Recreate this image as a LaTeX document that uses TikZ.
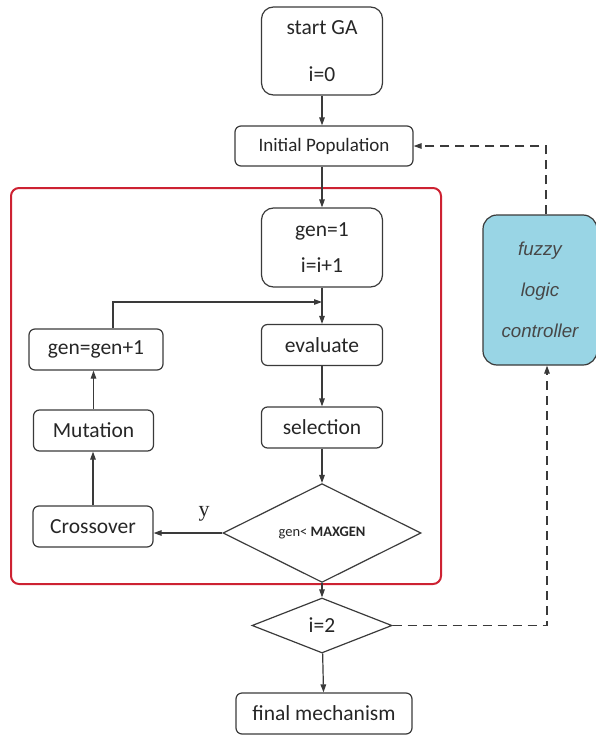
\documentclass[tikz,border=0pt]{standalone}
\usepackage{fontspec}
\setmainfont{Carlito}
\newfontfamily\ctrlfont{Liberation Sans}
\newfontfamily\labelfont{Liberation Serif}
\usetikzlibrary{arrows.meta,shapes.geometric}
\definecolor{FlowInk}{HTML}{3A3A3A}
\definecolor{FlowText}{HTML}{262626}
\definecolor{FlowRed}{HTML}{CD2232}
\definecolor{FlowBlue}{HTML}{99D5E5}
\tikzset{
  every node/.style={font=\fontsize{21.5}{26}\selectfont, text=FlowText},
  stepbox/.style={draw=FlowInk, line width=1.2pt, rounded corners=6pt, minimum width=121pt, minimum height=41pt, inner sep=0pt},
  bigbox/.style={stepbox, rounded corners=12pt, align=center},
  test/.style={diamond, draw=FlowInk, line width=1.2pt, inner sep=0pt},
  loopframe/.style={draw=FlowRed, line width=2pt, rounded corners=8pt},
  flow/.style={-{Triangle[length=8pt,width=5.5pt]}, draw=FlowInk, line width=1.2pt},
  control/.style={flow, dash pattern=on 9pt off 6pt},
  ctrlbox/.style={draw=FlowInk, line width=1.2pt, fill=FlowBlue, rounded corners=14pt, align=center, inner sep=0pt, font=\ctrlfont\itshape\fontsize{18.7}{22}\selectfont, text=FlowText!85},
}
\begin{document}
\begin{tikzpicture}[x=1pt,y=-1pt]
  \useasboundingbox (0,0) rectangle (596,736);
  % GA loop frame
  \draw[loopframe] (11,188) rectangle (441,584);
  % Main column
  \node[bigbox, minimum height=88pt] (start) at (322,51) {start GA\\[21pt]i=0};
  \node[stepbox, minimum width=178pt, minimum height=40pt, font=\fontsize{19}{23}\selectfont] (init) at (324,146) {Initial Population};
  \node[bigbox, minimum height=79pt] (gen1) at (322,247.5) {gen=1\\[10pt]i=i+1};
  \node[stepbox] (eval) at (322,345) {evaluate};
  \node[stepbox] (select) at (322,427.5) {selection};
  \node[test, minimum width=198pt, minimum height=74pt, font=\fontsize{14.5}{17}\selectfont] (maxgen) at (322,533) {gen< \textbf{MAXGEN}};
  \node[test, minimum width=140pt, minimum height=55pt] (last) at (322,625.5) {i=2};
  \node[stepbox, minimum width=176pt] (final) at (324,713.5) {final mechanism};
  % Left column
  \node[stepbox, minimum width=134pt] (nextgen) at (96,349.5) {gen=gen+1};
  \node[stepbox, minimum width=120pt] (mut) at (93.5,430.5) {Mutation};
  \node[stepbox, minimum width=120pt] (cross) at (93,526.5) {Crossover};
  \node[font=\labelfont\fontsize{22}{26}\selectfont] (yes) at (204,514) {y};
  % Controller
  \node[ctrlbox, minimum width=114pt, minimum height=150pt] (flc) at (540,290) {fuzzy\\[19pt]logic\\[19pt]controller};
  \coordinate (merge) at (322,302);
  % Connectors
  \draw[flow] (start.south) -- (start.south |- init.north);
  \draw[flow] (gen1 |- init.south) -- (gen1.north);
  \draw[flow] (gen1) -- (eval);
  \draw[flow] (eval) -- (select);
  \draw[flow] (select) -- (maxgen);
  \draw[flow] (maxgen.west) -- (maxgen.west -| cross.east);
  \draw[flow] (cross.north) -- (cross.north |- mut.south);
  \draw[flow] (mut.north) -- (mut.north |- nextgen.south);
  \draw[flow] ([xshift=17pt]nextgen.north) |- (merge);
  \draw[flow] (maxgen) -- (last);
  \draw[flow] (last) -- (final);
  \draw[control] (last.east) -| ([xshift=7pt]flc.south);
  \draw[control] ([xshift=6pt]flc.north) |- (init.east);
\end{tikzpicture}
\end{document}
